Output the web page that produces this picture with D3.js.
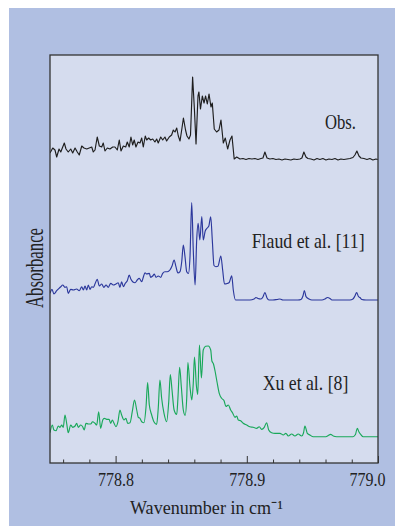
<!DOCTYPE html>
<html>
<head>
<meta charset="utf-8">
<script src="https://cdn.jsdelivr.net/npm/d3@7"></script>
<style>
  html, body { margin: 0; padding: 0; background: #fff; }
  svg text { font-family: "Liberation Serif", "Times New Roman", serif; fill: #222; }
</style>
</head>
<body>
<div id="chart"></div>
<script>
// Spectra (wavenumber in cm-1, absorbance in arbitrary units)
const obsWavenumber = [778.7500,778.7521,778.7538,778.7551,778.7569,778.7582,778.7597,778.7609,778.7622,778.7639,
  778.7658,778.7673,778.7691,778.7708,778.7723,778.7742,778.7759,778.7780,778.7799,778.7818,
  778.7830,778.7843,778.7860,778.7876,778.7894,778.7906,778.7919,778.7937,778.7957,778.7978,
  778.7995,778.8013,778.8028,778.8041,778.8059,778.8077,778.8089,778.8104,778.8117,778.8130,
  778.8142,778.8155,778.8171,778.8186,778.8199,778.8211,778.8226,778.8237,778.8252,778.8267,
  778.8283,778.8300,778.8313,778.8325,778.8344,778.8359,778.8376,778.8389,778.8409,778.8427,
  778.8440,778.8453,778.8466,778.8478,778.8491,778.8506,778.8517,778.8533,778.8544,778.8559,
  778.8571,778.8587,778.8601,778.8613,778.8628,778.8635,778.8647,778.8661,778.8674,778.8686,
  778.8699,778.8712,778.8727,778.8737,778.8752,778.8770,778.8788,778.8803,778.8821,778.8836,
  778.8854,778.8872,778.8887,778.8904,778.8923,778.8948,778.8971,778.8994,778.9016,778.9039,
  778.9062,778.9085,778.9108,778.9123,778.9138,778.9154,778.9176,778.9199,778.9222,778.9245,
  778.9268,778.9291,778.9314,778.9336,778.9359,778.9382,778.9405,778.9420,778.9435,778.9451,
  778.9466,778.9489,778.9512,778.9535,778.9557,778.9580,778.9603,778.9626,778.9649,778.9672,
  778.9695,778.9717,778.9740,778.9763,778.9786,778.9809,778.9824,778.9839,778.9855,778.9870,
  778.9893,778.9916,778.9938,778.9961,778.9984,778.9999];
const obsAbsorbance = [7,12,10,3,11,8,13,17,11,8,
  11,7,12,8,5,14,12,11,12,13,
  8,10,23,14,13,17,9,12,11,13,
  13,10,20,9,14,13,18,13,23,15,
  20,13,18,17,22,13,24,20,22,20,
  21,18,21,17,23,20,23,19,23,25,
  30,28,32,24,19,32,42,30,24,21,
  25,83,50,16,64,68,51,64,57,64,
  56,66,53,57,31,28,30,40,17,22,
  11,20,24,1,3,1,1.5,0.5,1.5,1,
  1.5,0.5,1.5,2,8,2,1,1.5,0.5,1,
  0,1,0.5,0,1,0.5,1,2,8,3,
  1.5,1,0,1.5,0.5,1.5,0,1,0.5,1.5,
  0,1,0.5,1,1.5,2.5,5,9,4,2,
  1.5,0.5,1.5,0,1,0.5];

const flaudWavenumber = [778.7500,778.7515,778.7530,778.7551,778.7569,778.7582,778.7597,778.7614,778.7627,778.7639,
  778.7658,778.7678,778.7703,778.7723,778.7742,778.7754,778.7767,778.7780,778.7792,778.7805,
  778.7818,778.7830,778.7845,778.7860,778.7876,778.7894,778.7911,778.7927,778.7944,778.7963,
  778.7982,778.8003,778.8020,778.8033,778.8046,778.8059,778.8074,778.8089,778.8104,778.8117,
  778.8130,778.8148,778.8165,778.8180,778.8199,778.8211,778.8224,778.8237,778.8257,778.8267,
  778.8283,778.8295,778.8308,778.8325,778.8344,778.8359,778.8376,778.8394,778.8414,778.8430,
  778.8446,778.8460,778.8475,778.8491,778.8504,778.8516,778.8529,778.8542,778.8555,778.8567,
  778.8580,778.8592,778.8606,778.8618,778.8629,778.8642,778.8657,778.8668,778.8683,778.8696,
  778.8710,778.8725,778.8737,778.8750,778.8765,778.8780,778.8802,778.8816,778.8830,778.8851,
  778.8866,778.8885,778.8897,778.8914,778.8948,778.8986,778.9024,778.9055,778.9070,778.9085,
  778.9108,778.9123,778.9138,778.9154,778.9169,778.9199,778.9230,778.9253,778.9275,778.9329,
  778.9390,778.9413,778.9428,778.9439,778.9451,778.9462,778.9474,778.9496,778.9573,778.9596,
  778.9615,778.9634,778.9649,778.9740,778.9786,778.9809,778.9824,778.9837,778.9851,778.9862,
  778.9877,778.9908,778.9954,779.0000];
const flaudAbsorbance = [6.7,10.7,6,9.3,11.7,13.3,15,12.7,13.3,6.7,
  10.7,10,11,9.3,13.3,10,14,10,15,10.7,
  13.3,12.7,16.7,20.7,14,16,12.7,15,12.7,16.7,
  15,16,17.3,12.7,18.3,13.3,16.7,19.3,25,20.7,
  18.3,17.3,20,21.7,18.3,22.7,27.3,26,26.7,22.7,
  24,26,22.7,24,22.7,26.7,28.3,28.3,30,34,
  40,33.3,27,28.3,38.3,55,43.3,28.3,26.5,43,
  97.5,50,15,60,76.7,60,83.5,60,69,71.7,
  73.7,83.3,60,34.5,33.3,33.7,44,30,16,16.5,
  17.5,24.2,10,0,0,0,0,1,2.5,1.5,
  1,3,7.5,2,0,0,0.5,1,0,0,
  0,0.5,4,9.5,3.5,2,1,0,0,1,
  2.5,1.5,0,0,0,1,4,7.5,3.5,2.5,
  0.5,0,0,0];

const xuWavenumber = [778.7500,778.7518,778.7530,778.7546,778.7563,778.7576,778.7589,778.7601,778.7614,778.7627,
  778.7639,778.7658,778.7673,778.7691,778.7703,778.7716,778.7734,778.7749,778.7761,778.7774,
  778.7792,778.7810,778.7825,778.7843,778.7856,778.7871,778.7886,778.7902,778.7914,778.7932,
  778.7950,778.7963,778.7975,778.7988,778.8003,778.8018,778.8033,778.8046,778.8064,778.8079,
  778.8092,778.8110,778.8127,778.8144,778.8161,778.8173,778.8186,778.8199,778.8216,778.8232,
  778.8244,778.8257,778.8275,778.8292,778.8313,778.8325,778.8338,778.8351,778.8369,778.8389,
  778.8405,778.8417,778.8430,778.8446,778.8466,778.8475,778.8488,778.8501,778.8516,778.8530,
  778.8542,778.8551,778.8567,778.8581,778.8592,778.8601,778.8616,778.8626,778.8639,778.8654,
  778.8668,778.8686,778.8706,778.8725,778.8734,778.8746,778.8758,778.8773,778.8790,778.8808,
  778.8826,778.8841,778.8859,778.8877,778.8892,778.8910,778.8923,778.8935,778.8953,778.8973,
  778.8999,778.9024,778.9049,778.9075,778.9095,778.9113,778.9133,778.9151,778.9167,778.9189,
  778.9215,778.9253,778.9278,778.9298,778.9316,778.9342,778.9367,778.9392,778.9418,778.9432,
  778.9443,778.9461,778.9481,778.9506,778.9557,778.9603,778.9621,778.9639,778.9659,778.9685,
  778.9748,778.9809,778.9828,778.9842,778.9855,778.9868,778.9887,778.9938,779.0000];
const xuAbsorbance = [4.3,12,7,6.3,11,9.7,12,9.7,22,13.7,
  4.3,12,9.7,11,13.7,9.7,12,10.3,7,13.7,
  13,13,15.3,13.7,12,25.3,8.7,17,18.7,17.7,
  17.7,13.7,17,13.7,10.3,15.3,27,22,17,18.7,
  13.7,14.3,25.3,37,27,19.7,18.7,15.3,14.3,30.3,
  54.5,32,22,15.3,12.7,28.7,57,38.7,23.7,15.3,
  35.3,62.5,47,27,22.5,38.7,69.7,50.3,27,21.7,
  38.7,74.5,50.3,37,53.7,80,51,42.5,92,59,
  87,90.7,91,87,76,73,66,55,43.7,38.7,
  36.5,30.5,32,27,24,19.7,21,17,16.3,13.7,
  12,10.3,9.7,8.7,10.3,7.7,9.7,14.3,7,4.3,
  3.7,3.7,2,3.7,1,3,1,3,1,4,
  11,3.7,2,0.3,0.3,0.3,1.5,2.7,1,0.3,
  0.3,0.3,2.5,8.7,5,2.7,0.3,0.3,0.3];

const seriesNames = ["Obs.", "Flaud et al. [11]", "Xu et al. [8]"];
const seriesOffsets = [303, 163, 26];          // vertical stacking offsets
const seriesColors = ["#1e1e1e", "#2b379c", "#19a85a"];
const majorTicks = [778.8, 778.9, 779.0];
const tickLabels = ["778.8", "778.9", "779.0"];
const minorTicks = [778.76, 778.78, 778.82, 778.84, 778.86, 778.88, 778.92, 778.94, 778.96, 778.98];

const W = 395, H = 527;
const plot = { left: 50, top: 55, right: 378, bottom: 463 };

const svg = d3.select("#chart").append("svg")
  .attr("width", W).attr("height", H);

// outer tinted panel
svg.append("rect").attr("x", 9).attr("y", 8).attr("width", W - 9).attr("height", 518)
  .attr("fill", "#b0bfe2");

svg.append("rect")
  .attr("x", plot.left).attr("y", plot.top)
  .attr("width", plot.right - plot.left).attr("height", plot.bottom - plot.top)
  .attr("fill", "#d5dcee");

svg.append("clipPath").attr("id", "clip").append("rect")
  .attr("x", plot.left).attr("y", plot.top)
  .attr("width", plot.right - plot.left).attr("height", plot.bottom - plot.top);

const x = d3.scaleLinear().domain([778.75, 779.0]).range([plot.left, plot.right]);
const y = d3.scaleLinear().domain([0, 408]).range([plot.bottom, plot.top]);

const series = [
  { xs: obsWavenumber, ys: obsAbsorbance, curve: d3.curveLinear },
  { xs: flaudWavenumber, ys: flaudAbsorbance, curve: d3.curveMonotoneX },
  { xs: xuWavenumber, ys: xuAbsorbance, curve: d3.curveMonotoneX }
];

const lines = svg.append("g").attr("clip-path", "url(#clip)");
series.forEach((s, i) => {
  const pts = d3.zip(s.xs, s.ys);
  const line = d3.line()
    .x(d => x(d[0]))
    .y(d => y(d[1] + seriesOffsets[i]))
    .curve(s.curve);
  lines.append("path")
    .datum(pts)
    .attr("d", line)
    .attr("fill", "none")
    .attr("stroke", seriesColors[i])
    .attr("stroke-width", 1.15)
    .attr("stroke-linejoin", "round");
});

// series labels
const labelPos = [[325, 129.3, 31], [251.7, 248.3, 113], [262.7, 390, 85.6]];
seriesNames.forEach((name, i) => {
  svg.append("text")
    .attr("x", labelPos[i][0]).attr("y", labelPos[i][1])
    .attr("font-size", 21)
    .attr("textLength", labelPos[i][2])
    .attr("lengthAdjust", "spacingAndGlyphs")
    .text(name);
});

// bottom axis: minor and major ticks pointing inward
const minorAxis = d3.axisBottom(x).tickValues(minorTicks).tickSize(-3.5).tickFormat("");
const gMinor = svg.append("g").attr("transform", `translate(0,${plot.bottom})`).call(minorAxis);
gMinor.select(".domain").remove();
gMinor.selectAll(".tick line").attr("stroke", "#333");

const majorAxis = d3.axisBottom(x).tickValues(majorTicks).tickSize(-7)
  .tickFormat((d, i) => tickLabels[i]);
const gMajor = svg.append("g").attr("transform", `translate(0,${plot.bottom})`).call(majorAxis);
gMajor.select(".domain").remove();
gMajor.attr("font-family", null);
gMajor.selectAll(".tick line").attr("stroke", "#333");
gMajor.selectAll(".tick text")
  .attr("y", 22.7).attr("dy", 0)
  .attr("font-size", 18.5)
  .attr("fill", "#222")
  .attr("textLength", 36)
  .attr("lengthAdjust", "spacingAndGlyphs")
  .attr("dx", (d, i) => i === tickLabels.length - 1 ? -11 : 0);

// frame
svg.append("rect")
  .attr("x", plot.left).attr("y", plot.top)
  .attr("width", plot.right - plot.left).attr("height", plot.bottom - plot.top)
  .attr("fill", "none").attr("stroke", "#333").attr("stroke-width", 1.3);

// axis titles
svg.append("text")
  .attr("x", 130).attr("y", 514)
  .attr("font-size", 19.5)
  .attr("textLength", 153).attr("lengthAdjust", "spacingAndGlyphs")
  .text("Wavenumber in cm\u207B\u00B9");

svg.append("text")
  .attr("transform", "translate(43,268) rotate(-90)")
  .attr("text-anchor", "middle")
  .attr("font-size", 25)
  .attr("textLength", 80).attr("lengthAdjust", "spacingAndGlyphs")
  .text("Absorbance");
</script>
</body>
</html>
